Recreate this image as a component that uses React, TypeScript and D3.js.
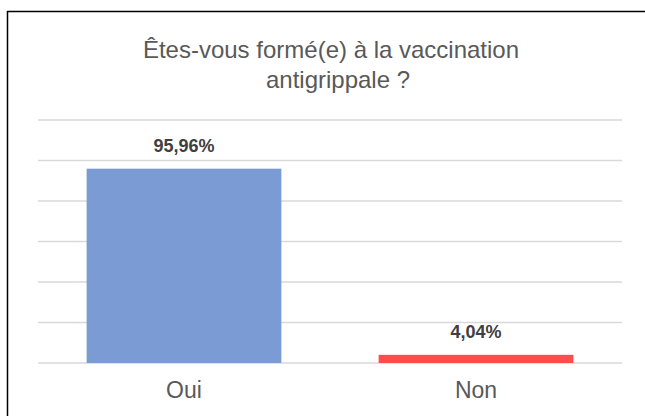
import React from "react";
import * as d3 from "d3";

const categories = ["Oui", "Non"];
const values = [95.96, 4.04];
const valueLabels = ["95,96%", "4,04%"];
const colors = ["#7A9BD4", "#FF4D4D"];
const gridTicks = [0, 20, 40, 60, 80, 100, 120];
const titleLines = ["Êtes-vous formé(e) à la vaccination", "antigrippale ?"];

const W = 645;
const H = 416;
const plot = { left: 38, right: 622, top: 120, bottom: 363 };
const font = "'Liberation Sans', Arial, sans-serif";

export default function App() {
  const x = d3
    .scaleBand<string>()
    .domain(categories)
    .range([plot.left, plot.right])
    .paddingInner(0.333)
    .paddingOuter(0.1665);
  const y = d3.scaleLinear().domain([0, 120]).range([plot.bottom, plot.top]);
  const titleCx = [331, 338];

  return (
    <svg
      width={W}
      height={H}
      style={{ position: "absolute", left: 0, top: 0, background: "#fff" }}
    >
      <rect x={0} y={0} width={W} height={H} fill="#fff" />
      <path d={`M7.5,${H} V11.5 H${W}`} fill="none" stroke="#000" strokeWidth={1.5} />
      {titleLines.map((t, i) => (
        <text
          key={i}
          x={titleCx[i]}
          y={58 + i * 30}
          textAnchor="middle"
          fontFamily={font}
          fontSize={24}
          fill="#595959"
        >
          {t}
        </text>
      ))}
      {gridTicks.map((t) => (
        <line
          key={t}
          x1={plot.left}
          x2={plot.right}
          y1={y(t)}
          y2={y(t)}
          stroke="#D9D9D9"
          strokeWidth={1.5}
        />
      ))}
      {categories.map((c, i) => (
        <g key={c}>
          <rect
            x={x(c)}
            y={y(values[i])}
            width={x.bandwidth()}
            height={y(0) - y(values[i])}
            fill={colors[i]}
          />
          <text
            x={(x(c) as number) + x.bandwidth() / 2}
            y={y(values[i]) - 17}
            textAnchor="middle"
            fontFamily={font}
            fontSize={18}
            fontWeight="bold"
            fill="#404040"
          >
            {valueLabels[i]}
          </text>
          <text
            x={(x(c) as number) + x.bandwidth() / 2}
            y={398}
            textAnchor="middle"
            fontFamily={font}
            fontSize={23}
            fill="#595959"
          >
            {c}
          </text>
        </g>
      ))}
    </svg>
  );
}
